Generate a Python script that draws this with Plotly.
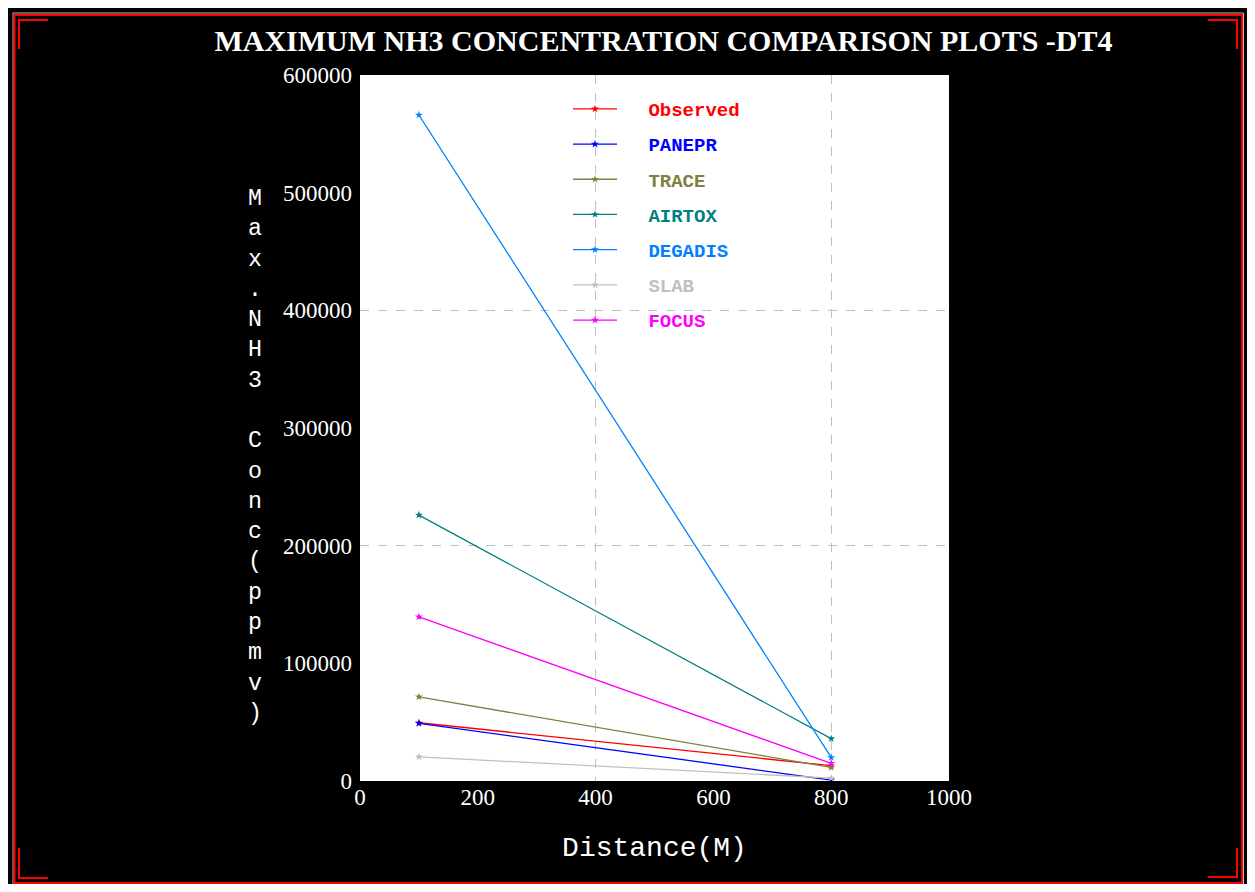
import plotly.graph_objects as go

# ---- data ----
distance = [100, 800]
series_names = ["Observed", "PANEPR", "TRACE", "AIRTOX", "DEGADIS", "SLAB", "FOCUS"]
observed = [49500, 13000]
panepr = [49000, 800]
trace_v = [71500, 11500]
airtox = [226000, 36000]
degadis = [566000, 20000]
slab = [20500, 2500]
focus = [139500, 15000]
series_values = [observed, panepr, trace_v, airtox, degadis, slab, focus]
series_colors = ["#ff0000", "#0000ff", "#808040", "#008080", "#0080ff", "#c0c0c0", "#ff00ff"]
x_ticks = [0, 200, 400, 600, 800, 1000]
y_ticks = [0, 100000, 200000, 300000, 400000, 500000, 600000]
x_grid = [400, 800]
y_grid = [200000, 400000]

OFF = 8  # page body margin
W, H = 1255 - 2 * OFF, 892 - 2 * OFF
L, R, T, B = 360 - OFF, 949 - OFF, 75 - OFF, 781 - OFF


def px(xp):
    return (xp - OFF - L) / (R - L)


def py(yp):
    return (B - (yp - OFF)) / (B - T)


fig = go.Figure()
for name, vals, col in zip(series_names, series_values, series_colors):
    fig.add_trace(go.Scatter(
        x=distance, y=vals, mode="lines+markers",
        name=f"<span style='font-size:22px'>&nbsp;&nbsp;</span><span style='color:{col}'>{name}</span>",
        legendgroup=name,
        line=dict(color=col, width=1.3),
        marker=dict(symbol="star", size=6, color=col),
    ))

# empty trace to carry the grid axes
fig.add_trace(go.Scatter(x=[], y=[], xaxis="x2", yaxis="y2", showlegend=False, hoverinfo="skip"))

shapes = []
shapes.append(dict(type="rect", xref="paper", yref="paper", layer="below",
                   x0=px(13), x1=px(1243.5), y0=py(13), y1=py(884.5),
                   line=dict(color="#c0c0c0", width=1)))
shapes.append(dict(type="rect", xref="paper", yref="paper", layer="below",
                   x0=px(14.5), x1=px(1242), y0=py(15), y1=py(883),
                   line=dict(color="#ff0000", width=2)))
for pts in [[(48, 20), (19, 20), (19, 49)],
            [(1208, 20), (1237, 20), (1237, 49)],
            [(19, 848), (19, 878), (48, 878)],
            [(1237, 848), (1237, 877), (1208, 877)]]:
    path = "M" + " L".join(f"{px(a)},{py(b)}" for a, b in pts)
    shapes.append(dict(type="path", xref="paper", yref="paper", layer="below",
                       path=path, line=dict(color="#ff0000", width=2)))

ytitle = "M a x . N H 3 &nbsp; C o n c ( p p m v )".split(" ")
ytitle_text = "<br>".join(ytitle)

fig.update_layout(
    width=W, height=H,
    margin=dict(l=L, r=W - R, t=T, b=H - B, pad=0),
    paper_bgcolor="black", plot_bgcolor="white",
    showlegend=True,
    title=dict(text="<b>MAXIMUM NH3 CONCENTRATION COMPARISON PLOTS -DT4</b>",
               x=(663.5 - OFF) / W, xanchor="center", y=1 - (40 - OFF) / H, yanchor="middle",
               font=dict(family="Liberation Serif", size=30, color="white")),
    xaxis=dict(range=[0, 1000], tickvals=x_ticks, showgrid=False, zeroline=False,
               showline=False, ticks="",
               tickfont=dict(family="Liberation Serif", size=23, color="white"),
               title=dict(text="Distance(M)", standoff=27,
                          font=dict(family="Liberation Mono", size=28, color="white"))),
    yaxis=dict(range=[0, 600000], tickvals=y_ticks, tickformat="d", showgrid=False,
               zeroline=False, showline=False, ticks="", ticklabelstandoff=7,
               tickfont=dict(family="Liberation Serif", size=23, color="white")),
    xaxis2=dict(range=[0, 1000], overlaying="x", tickvals=x_grid, showticklabels=False,
                showgrid=True, gridcolor="#c0c0c0", griddash="dash", gridwidth=1,
                zeroline=False, showline=False, ticks=""),
    yaxis2=dict(range=[0, 600000], overlaying="y", tickvals=y_grid, showticklabels=False,
                showgrid=True, gridcolor="#c0c0c0", griddash="dash", gridwidth=1,
                zeroline=False, showline=False, ticks=""),
    legend=dict(x=px(568), y=py(90), xanchor="left", yanchor="top",
                bgcolor="rgba(0,0,0,0)", borderwidth=0,
                font=dict(family="Liberation Mono", size=19, color="black", weight="bold"),
                itemwidth=44, tracegroupgap=7.5, traceorder="grouped"),
    shapes=shapes,
    annotations=[dict(text=ytitle_text, xref="paper", yref="paper",
                      x=px(255), y=py(456), xanchor="center", yanchor="middle",
                      showarrow=False, align="center",
                      font=dict(family="Liberation Mono", size=23.3, color="white"))],
)

fig.write_html("out.html")
